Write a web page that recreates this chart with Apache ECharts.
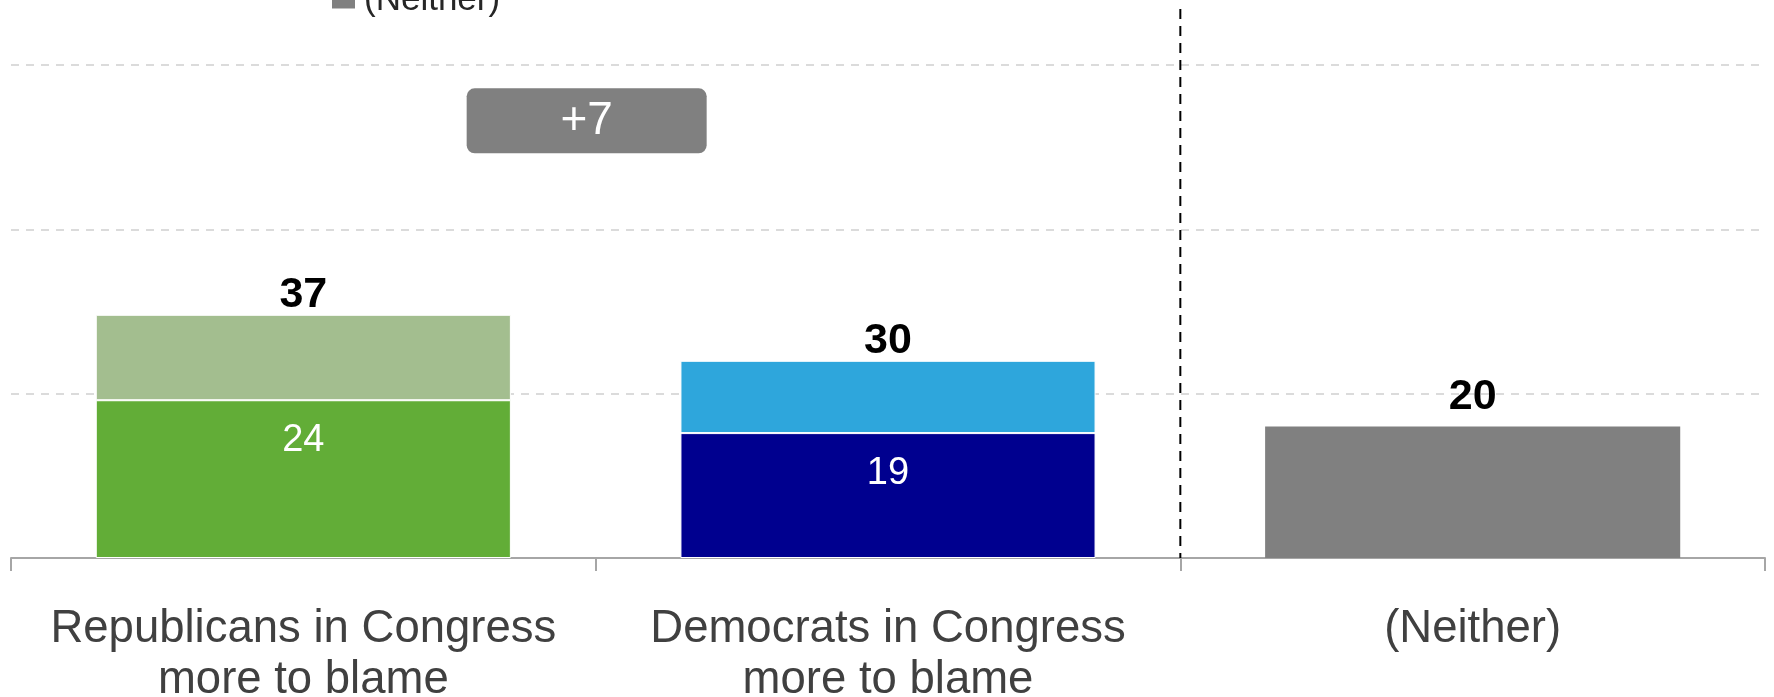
<!DOCTYPE html>
<html>
<head>
<meta charset="utf-8">
<script src="https://cdn.jsdelivr.net/npm/echarts@6/dist/echarts.min.js"></script>
<style>
  html, body { margin: 0; padding: 0; background: #ffffff; }
  #chart { width: 1774px; height: 697px; }
</style>
</head>
<body>
<div id="chart"></div>
<script>
// ---- data ----
const categories = [
  'Republicans in Congress\nmore to blame',
  'Democrats in Congress\nmore to blame',
  '(Neither)'
];
const strongValues = [24, 19];   // darker lower segments
const totalValues = [37, 30];    // bar totals for the two party bars
const neitherValue = 20;
const yTicks = [0, 25, 50, 75];

const strongColors = ['#62ad37', '#00008f'];
const lightColors = ['#a3be8f', '#2ea6dc'];
const neitherColor = '#808080';

const FONT = "'Liberation Sans', Arial, sans-serif";

const strongData = strongValues.map((v, i) => ({ value: v, itemStyle: { color: strongColors[i] } }));
strongData.push('-');
const lightData = totalValues.map((t, i) => ({ value: t - strongValues[i], itemStyle: { color: lightColors[i] } }));
lightData.push('-');
const neitherData = ['-', '-', neitherValue];
const diffValue = totalValues[0] - totalValues[1];

const chart = echarts.init(document.getElementById('chart'));

const option = {
  animation: false,
  backgroundColor: '#ffffff',
  textStyle: { fontFamily: FONT },
  grid: { left: 11, right: 9, top: 65, bottom: 139, containLabel: false, outerBoundsMode: 'none' },
  legend: {
    data: ['(Neither)'],
    left: 332,
    top: -17,
    padding: 0,
    itemWidth: 23,
    itemHeight: 16,
    icon: 'rect',
    textStyle: { fontSize: 35, color: '#262626', fontFamily: FONT, padding: [0, 0, 0, 4] }
  },
  xAxis: {
    type: 'category',
    data: categories,
    boundaryGap: true,
    axisLine: { lineStyle: { color: '#a6a6a6', width: 2 } },
    axisTick: { show: true, length: 13, lineStyle: { color: '#a6a6a6', width: 2 } },
    axisLabel: {
      interval: 0,
      margin: 46,
      fontSize: 45.5,
      lineHeight: 51,
      color: '#404040',
      fontFamily: FONT
    }
  },
  yAxis: {
    type: 'value',
    min: yTicks[0],
    max: yTicks[yTicks.length - 1],
    interval: 25,
    axisLine: { show: false },
    axisTick: { show: false },
    axisLabel: { show: false },
    splitLine: { show: true, lineStyle: { color: '#cfcfcf', width: 1.5, type: [8, 7] } }
  },
  series: [
    {
      name: 'Strong',
      type: 'bar',
      stack: 'total',
      barWidth: '71%',
      data: strongData,
      itemStyle: { borderColor: '#ffffff', borderWidth: 1 },
      label: {
        show: true,
        position: 'insideTop',
        distance: 21,
        fontSize: 38,
        color: '#ffffff',
        fontFamily: FONT
      }
    },
    {
      name: 'Somewhat',
      type: 'bar',
      stack: 'total',
      barWidth: '71%',
      data: lightData,
      itemStyle: { borderColor: '#ffffff', borderWidth: 1 },
      label: {
        show: true,
        position: 'top',
        distance: -2,
        fontSize: 43,
        fontWeight: 'bold',
        color: '#000000',
        fontFamily: FONT,
        formatter: p => String(totalValues[p.dataIndex])
      }
    },
    {
      name: '(Neither)',
      type: 'bar',
      stack: 'total',
      barWidth: '71%',
      data: neitherData,
      itemStyle: { color: neitherColor },
      label: {
        show: true,
        position: 'top',
        distance: 8,
        fontSize: 43,
        fontWeight: 'bold',
        color: '#000000',
        fontFamily: FONT
      }
    }
  ]
};

chart.setOption(option);

// annotations placed through the chart's own scales
function px(cat, val) {
  return chart.convertToPixel({ xAxisIndex: 0, yAxisIndex: 0 }, [cat, val]);
}
const p0 = px(categories[0], 0);
const p1 = px(categories[1], 0);
const p2 = px(categories[2], 0);
const sepX = (p1[0] + p2[0]) / 2;
const diffX = (p0[0] + p1[0]) / 2 - 9;
const diffY = px(categories[0], 66.5)[1];

chart.setOption({
  graphic: [
    {
      type: 'line',
      shape: { x1: sepX, y1: 9, x2: sepX, y2: p2[1] },
      style: { stroke: '#000000', lineWidth: 2, lineDash: [10, 7] },
      z: 10
    },
    {
      type: 'group',
      x: diffX,
      y: diffY,
      children: [
        {
          type: 'rect',
          shape: { x: -120, y: -32.5, width: 240, height: 65, r: 8 },
          style: { fill: '#808080' }
        },
        {
          type: 'text',
          style: {
            text: '+' + diffValue,
            x: 0, y: 0,
            align: 'center',
            verticalAlign: 'middle',
            fill: '#ffffff',
            fontSize: 46,
            fontFamily: FONT
          }
        }
      ]
    }
  ]
});
</script>
</body>
</html>
